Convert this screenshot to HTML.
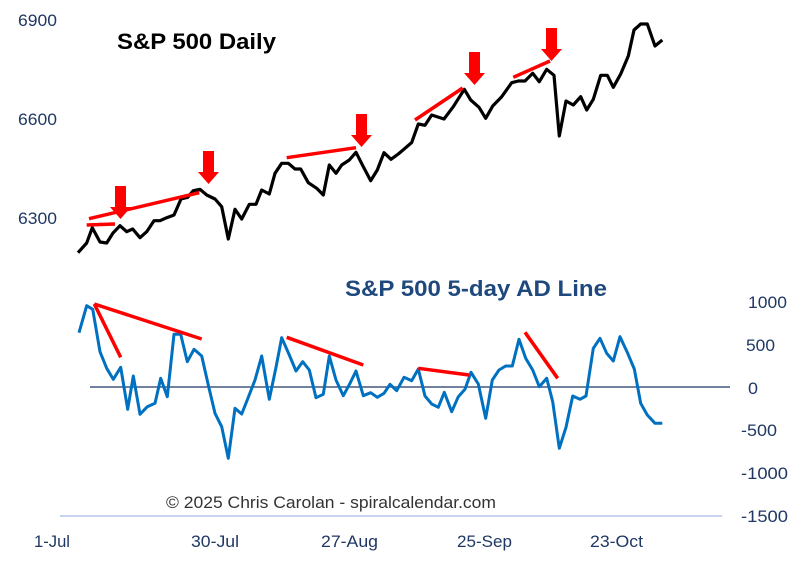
<!DOCTYPE html>
<html><head><meta charset="utf-8"><style>
body{margin:0;background:#fff}
svg{display:block}
text{font-family:"Liberation Sans",Arial,sans-serif}
</style></head><body>
<svg width="811" height="575" viewBox="0 0 811 575" xmlns="http://www.w3.org/2000/svg">
<rect width="811" height="575" fill="#fff"/>
<g fill="#1f3864" font-size="17">
<text x="18" y="26" textLength="39" lengthAdjust="spacingAndGlyphs">6900</text>
<text x="18" y="125" textLength="39" lengthAdjust="spacingAndGlyphs">6600</text>
<text x="18" y="224" textLength="39" lengthAdjust="spacingAndGlyphs">6300</text>
</g>
<g fill="#1f3864" font-size="17">
<text x="748" y="308" textLength="39" lengthAdjust="spacingAndGlyphs">1000</text>
<text x="746" y="351" textLength="29" lengthAdjust="spacingAndGlyphs">500</text>
<text x="748" y="394" textLength="10" lengthAdjust="spacingAndGlyphs">0</text>
<text x="741" y="436" textLength="36" lengthAdjust="spacingAndGlyphs">-500</text>
<text x="741" y="479" textLength="47" lengthAdjust="spacingAndGlyphs">-1000</text>
<text x="741" y="522" textLength="47" lengthAdjust="spacingAndGlyphs">-1500</text>
</g>
<g fill="#1f3864" font-size="17">
<text x="34" y="547" textLength="36" lengthAdjust="spacingAndGlyphs">1-Jul</text>
<text x="191" y="547" textLength="48" lengthAdjust="spacingAndGlyphs">30-Jul</text>
<text x="321" y="547" textLength="57" lengthAdjust="spacingAndGlyphs">27-Aug</text>
<text x="457" y="547" textLength="55" lengthAdjust="spacingAndGlyphs">25-Sep</text>
<text x="590" y="547" textLength="53" lengthAdjust="spacingAndGlyphs">23-Oct</text>
</g>
<line x1="60" y1="516" x2="722" y2="516" stroke="#b4c7e7" stroke-width="1.5"/>
<line x1="90" y1="387" x2="730" y2="387" stroke="#1f3864" stroke-width="1.2"/>
<text x="117" y="49" font-size="22" font-weight="bold" fill="#000" textLength="159" lengthAdjust="spacingAndGlyphs">S&amp;P 500 Daily</text>
<text x="345" y="296" font-size="22" font-weight="bold" fill="#1f497d" textLength="262" lengthAdjust="spacingAndGlyphs">S&amp;P 500 5-day AD Line</text>
<text x="166" y="508" font-size="17" fill="#333" textLength="330" lengthAdjust="spacingAndGlyphs">© 2025 Chris Carolan - spiralcalendar.com</text>
<polyline fill="none" stroke="#000" stroke-width="3.2" stroke-linejoin="round" points="78,252.7 86.7,243 92.3,227.7 100,242 106.7,243 113,233 120,225.7 126.7,231.7 132.7,229 140,237.7 146.7,231.7 154,220.7 160,220.7 166.7,217.7 174,215 181,199 187.7,197.3 193.3,190.7 200,189.3 206.7,195 215,199 221.7,206.7 228.3,239 235,209.3 241.7,219 249.3,204.3 256,204.3 261.7,190 269.3,194 275,173.3 281.7,163.3 288.3,163.3 295,169 300.7,169 308.3,182.7 316.7,188.3 323.3,195 329.3,165 336,173.3 341.7,165 349.3,160 356,152.3 363.3,166.7 370.7,180.7 377.3,170 384,152.7 391,159.3 398.3,154 405,148.3 411.7,142.5 418.3,124 425,125.3 431.7,115 444,119 453.3,106.7 464.3,89.3 470.7,100 479,107.3 485.7,118.3 492.7,106 501.7,96.7 511.7,82.7 518.3,81 525,81 532.7,73.3 539.3,81.7 546.7,69.3 554,75.3 559.3,136 566,101 573.3,105 580.7,96.7 586.7,110 593.3,99.3 600.7,75.3 607.3,75.3 613.3,87.3 620.7,74 628.3,56 634,30 640.7,24 647.3,24 655,46 662.3,40"/>
<polyline fill="none" stroke="#0070c0" stroke-width="3" stroke-linejoin="round" points="79,332.7 86.7,305.7 92.7,309.3 100,351.7 106.7,368.3 113.3,379.3 120.7,367.3 127.7,409.3 133.3,376 140,414.3 147.3,406.7 155,403.3 160.7,378.3 167.3,396.7 174,334.3 180.7,334.3 187.3,361.7 194,349.3 201.7,356 208.3,385 215,413.3 221.7,426.7 228.3,458.3 235,408.3 241.7,414 248.3,397.3 255,380 261.7,356 269.3,399.3 276,367.3 281.7,337.7 289.3,355 296,371 302.7,361.7 309.3,370 316,397.7 323.3,394.3 329.3,356 336,380 343.3,395.7 350,383.3 356,371 363.3,395.7 370.7,392.7 377.3,397.3 384,393.3 390,384.3 396.7,390.7 404,377.3 411.7,380.7 418.3,369 425,396 431.7,404 438.3,407.3 444.3,392.3 451.7,411.7 458.3,396.7 465,389.3 471,372.3 478.3,384 485.7,418.3 492.3,380 499,370 505.7,366 512.3,366 519,339.3 525.7,358.3 532.7,370 539.3,386.7 546.7,378.3 552.7,401.7 559.3,448.3 566,427.3 572.7,396 580,399.3 586,396 593.3,348.3 600,338.3 606.7,353.3 613.3,361 620,336.7 627.7,353.3 634.3,369 640.7,403.3 647.3,415 655,423.3 662.3,423.3"/>
<g stroke="#ff0000" stroke-width="3.5" stroke-linecap="butt">
<line x1="89" y1="218.7" x2="199.3" y2="192.7"/>
<line x1="86.7" y1="225" x2="115" y2="224"/>
<line x1="286.7" y1="157.7" x2="356" y2="147.7"/>
<line x1="415" y1="120" x2="462.7" y2="88"/>
<line x1="513.3" y1="77.3" x2="550" y2="61"/>
<line x1="94.3" y1="304" x2="201.7" y2="339"/>
<line x1="94.3" y1="304" x2="120.7" y2="357.3"/>
<line x1="286.7" y1="337.3" x2="363.3" y2="365"/>
<line x1="418.3" y1="368.3" x2="469" y2="375"/>
<line x1="525" y1="332.3" x2="557.7" y2="378.3"/>
</g>
<g fill="#ff0000">
<polygon points="115,186 126,186 126,207 131,207 120.5,219 110,207 115,207"/>
<polygon points="203,151 214,151 214,172 219,172 208.5,184 198,172 203,172"/>
<polygon points="356,114 367,114 367,135 372,135 361.5,147 351,135 356,135"/>
<polygon points="469,52 480,52 480,73 485,73 474.5,85 464,73 469,73"/>
<polygon points="546,28 557,28 557,49 562,49 551.5,61 541,49 546,49"/>
</g>
</svg>
</body></html>
